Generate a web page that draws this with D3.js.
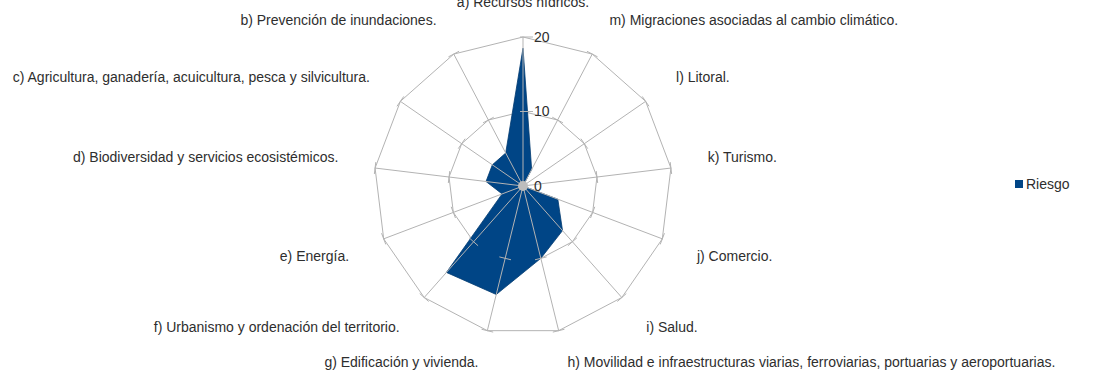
<!DOCTYPE html>
<html>
<head>
<meta charset="utf-8">
<script src="https://cdn.jsdelivr.net/npm/d3@7"></script>
<style>
  html, body { margin: 0; padding: 0; background: #fff; }
  svg { display: block; }
  text { font-family: "Liberation Sans", Arial, sans-serif; fill: #2e2e2e; }
</style>
</head>
<body>
<svg id="chart" width="1097" height="376"></svg>
<script>
// Sectores evaluados (ejes del radar, en sentido antihorario desde arriba)
const categories = [
  "a) Recursos hídricos.",
  "b) Prevención de inundaciones.",
  "c) Agricultura, ganadería, acuicultura, pesca y silvicultura.",
  "d) Biodiversidad y servicios ecosistémicos.",
  "e) Energía.",
  "f) Urbanismo y ordenación del territorio.",
  "g) Edificación y vivienda.",
  "h) Movilidad e infraestructuras viarias, ferroviarias, portuarias y aeroportuarias.",
  "i) Salud.",
  "j) Comercio.",
  "k) Turismo.",
  "l) Litoral.",
  "m) Migraciones asociadas al cambio climático."
];

// Valor de riesgo por sector
const seriesName = "Riesgo";
const riesgo = [18.5, 5, 5, 5, 3, 15.5, 15, 10, 8, 5, 0, 0, 2.5];

// Escala radial
const tickValues = [0, 10, 20];
const gridValues = [10, 20];

const W = 1097, H = 376;
const svg = d3.select("#chart");
const cx = 523, cy = 186;
const r = d3.scaleLinear().domain([0, 20]).range([0, 149]);
const n = categories.length;
const step = 2 * Math.PI / n;

// Ángulo (horario desde arriba, como d3.lineRadial) para cada eje
const ang = i => -i * step;
const px = (i, v) => cx + r(v) * Math.sin(ang(i));
const py = (i, v) => cy - r(v) * Math.cos(ang(i));

const g = svg.append("g");
const gridColor = "#b3b3b3";

// Anillos de la cuadrícula
const ring = d3.lineRadial()
  .angle((d, i) => ang(i))
  .radius(d => r(d))
  .curve(d3.curveLinearClosed);

g.selectAll("path.ring")
  .data(gridValues)
  .join("path")
  .attr("class", "ring")
  .attr("transform", `translate(${cx},${cy})`)
  .attr("d", v => ring(d3.range(n).map(() => v)))
  .attr("fill", "none")
  .attr("stroke", gridColor)
  .attr("stroke-width", 1);

// Área de la serie
g.append("path")
  .attr("transform", `translate(${cx},${cy})`)
  .attr("d", ring(riesgo))
  .attr("fill", "#004586")
  .attr("stroke", "#003a70")
  .attr("stroke-width", 0.8)
  .attr("stroke-linejoin", "miter");

// Radios de cada eje
g.selectAll("line.spoke")
  .data(d3.range(n))
  .join("line")
  .attr("class", "spoke")
  .attr("x1", cx).attr("y1", cy)
  .attr("x2", i => px(i, 20)).attr("y2", i => py(i, 20))
  .attr("stroke", gridColor)
  .attr("stroke-width", 1);

// Marcas perpendiculares en cada eje
const tickLen = 6;
d3.range(n).forEach(i => {
  gridValues.forEach(v => {
    const a = ang(i);
    const tx = Math.cos(a), ty = Math.sin(a); // dirección perpendicular
    const x0 = px(i, v), y0 = py(i, v);
    const lo = i === 0 ? -3 : -tickLen, hi = i === 0 ? 10 : tickLen;
    g.append("line")
      .attr("x1", x0 + tx * lo).attr("y1", y0 + ty * lo)
      .attr("x2", x0 + tx * hi).attr("y2", y0 + ty * hi)
      .attr("stroke", gridColor)
      .attr("stroke-width", 1);
  });
});

// Punto central
g.append("circle")
  .attr("cx", cx).attr("cy", cy).attr("r", 5)
  .attr("fill", "#bdbdbd");

// Etiquetas de valores del eje principal
g.selectAll("text.tick")
  .data(tickValues)
  .join("text")
  .attr("class", "tick")
  .attr("x", cx + 11)
  .attr("y", v => cy - r(v))
  .attr("dy", "0.35em")
  .attr("font-size", 14)
  .text(v => v);

// Etiquetas de categorías: ancladas fuera del anillo exterior, desplazadas
// verticalmente según la inclinación del eje y limitadas al lienzo
const fs = 14;
const labelR = r(20) + 37;
g.selectAll("text.cat")
  .data(categories)
  .join("text")
  .attr("class", "cat")
  .attr("x", (d, i) => cx + labelR * Math.sin(ang(i)))
  .attr("y", (d, i) => {
    const c = Math.cos(ang(i));
    const y = cy - labelR * c - (fs / 2) * Math.sign(c) * (1 - Math.abs(c));
    return Math.max(2, Math.min(y, H - fs));
  })
  .attr("dy", "0.35em")
  .attr("font-size", fs)
  .attr("text-anchor", (d, i) => {
    const s = Math.sin(ang(i));
    return Math.abs(s) < 0.01 ? "middle" : (s < 0 ? "end" : "start");
  })
  .text(d => d);

// Leyenda
const legend = svg.append("g").attr("transform", "translate(1015,180)");
legend.append("rect")
  .attr("width", 8).attr("height", 8)
  .attr("fill", "#004586");
legend.append("text")
  .attr("x", 11).attr("y", 4)
  .attr("dy", "0.35em")
  .attr("font-size", 14)
  .text(seriesName);
</script>
</body>
</html>
